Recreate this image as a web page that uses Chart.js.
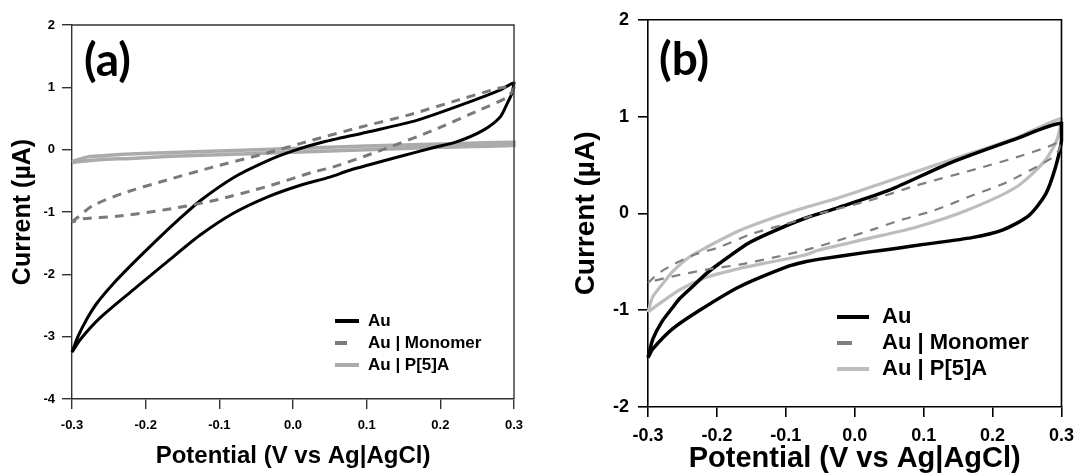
<!DOCTYPE html>
<html>
<head>
<meta charset="utf-8">
<script src="https://cdn.jsdelivr.net/npm/chart.js@4.4.1/dist/chart.umd.min.js"></script>
<style>
  html, body { margin: 0; padding: 0; background: #fff; }
  #wrap { position: relative; width: 1082px; height: 474px; overflow: hidden; }
  canvas { position: absolute; top: 0; }
</style>
</head>
<body>
<div id="wrap">
  <canvas id="cvA" width="540" height="474" style="left:0px"></canvas>
  <canvas id="cvB" width="542" height="474" style="left:540px"></canvas>
</div>
<script>
// Series names and axis ticks
const seriesLabels = ['Au', 'Au | Monomer', 'Au | P[5]A'];
const potentialTicks = [-0.3, -0.2, -0.1, 0.0, 0.1, 0.2, 0.3];
const currentTicksA = [-4, -3, -2, -1, 0, 1, 2];
const currentTicksB = [-2, -1, 0, 1, 2];

// Panel (a): cyclic voltammograms, potential (V) and current (µA)
const auA_E = [-0.300, -0.292, -0.280, -0.266, -0.244, -0.217, -0.185, -0.155, -0.126, -0.081, -0.035, 0.000, 0.037, 0.100, 0.168, 0.236, 0.280, 0.300,
               0.297, 0.290, 0.281, 0.258, 0.222, 0.190, 0.145, 0.077, 0.050, 0.010, -0.035, -0.081, -0.126, -0.171, -0.217, -0.262, -0.289, -0.300];
const auA_I = [-3.25, -3.00, -2.72, -2.46, -2.15, -1.82, -1.45, -1.12, -0.82, -0.45, -0.18, -0.02, 0.11, 0.28, 0.47, 0.75, 0.95, 1.07,
               0.90, 0.72, 0.52, 0.31, 0.125, 0.03, -0.11, -0.33, -0.44, -0.57, -0.76, -1.02, -1.37, -1.80, -2.25, -2.70, -3.05, -3.25];

const monoA_E = [-0.300, -0.272, -0.231, -0.172, -0.109, -0.045, 0.027, 0.091, 0.155, 0.217, 0.281, 0.300,
                 0.292, 0.254, 0.190, 0.122, 0.054, 0.027, -0.035, -0.109, -0.172, -0.239, -0.285, -0.300];
const monoA_I = [-1.16, -0.90, -0.70, -0.49, -0.28, -0.085, 0.155, 0.36, 0.55, 0.77, 0.99, 1.00,
                 0.85, 0.64, 0.31, 0.00, -0.28, -0.36, -0.59, -0.82, -0.96, -1.07, -1.11, -1.16];

const polyA_E = [-0.300, -0.280, -0.262, -0.220, -0.172, -0.100, 0.000, 0.100, 0.200, 0.300,
                 0.300, 0.200, 0.100, 0.000, -0.100, -0.172, -0.220, -0.262, -0.290, -0.300];
const polyA_I = [-0.19, -0.12, -0.10, -0.07, -0.05, -0.02, 0.02, 0.06, 0.09, 0.12,
                 0.07, 0.04, 0.00, -0.04, -0.08, -0.11, -0.14, -0.16, -0.19, -0.21];

// Panel (b)
const auB_E = [-0.300, -0.293, -0.280, -0.264, -0.254, -0.230, -0.215, -0.197, -0.155, -0.120, -0.072, -0.024, 0.050, 0.138, 0.234, 0.300,
               0.300, 0.291, 0.277, 0.253, 0.215, 0.170, 0.100, 0.062, 0.019, -0.053, -0.072, -0.096, -0.168, -0.225, -0.264, -0.293, -0.300];
const auB_I = [-1.49, -1.30, -1.12, -0.97, -0.88, -0.72, -0.62, -0.52, -0.31, -0.19, -0.05, 0.06, 0.24, 0.52, 0.77, 0.93,
               0.75, 0.47, 0.20, -0.02, -0.17, -0.25, -0.32, -0.36, -0.40, -0.475, -0.50, -0.545, -0.76, -1.00, -1.19, -1.40, -1.49];

const monoB_E = [-0.300, -0.285, -0.264, -0.230, -0.197, -0.149, -0.100, -0.050, 0.020, 0.090, 0.177, 0.244, 0.277, 0.300,
                 0.295, 0.281, 0.220, 0.172, 0.115, 0.066, 0.029, -0.024, -0.072, -0.120, -0.168, -0.215, -0.264, -0.293, -0.300];
const monoB_I = [-0.72, -0.62, -0.53, -0.42, -0.35, -0.21, -0.11, 0.00, 0.13, 0.29, 0.46, 0.60, 0.68, 0.74,
                 0.64, 0.55, 0.32, 0.19, 0.03, -0.07, -0.16, -0.28, -0.38, -0.46, -0.53, -0.58, -0.65, -0.70, -0.72];

const polyB_E = [-0.300, -0.293, -0.280, -0.264, -0.240, -0.215, -0.168, -0.120, -0.072, -0.024, 0.043, 0.138, 0.234, 0.300,
                 0.297, 0.291, 0.273, 0.234, 0.162, 0.090, 0.019, -0.053, -0.072, -0.120, -0.168, -0.215, -0.254, -0.283, -0.300];
const polyB_I = [-1.02, -0.86, -0.74, -0.60, -0.45, -0.35, -0.18, -0.05, 0.06, 0.16, 0.32, 0.55, 0.78, 0.98,
                 0.85, 0.72, 0.52, 0.27, 0.03, -0.14, -0.26, -0.38, -0.43, -0.50, -0.57, -0.66, -0.79, -0.93, -1.02];

const toPoints = (E, I) => E.map((e, k) => ({ x: e, y: I[k] }));

const FONT = "'Liberation Sans', Arial, sans-serif";

// Draws top and right edges of the plotting box
const framePlugin = {
  id: 'frame',
  afterDraw(chart, args, opts) {
    const { ctx, chartArea: a } = chart;
    ctx.save();
    ctx.strokeStyle = opts.color;
    ctx.lineWidth = opts.width;
    ctx.beginPath();
    ctx.moveTo(a.left, a.top);
    ctx.lineTo(a.right, a.top);
    ctx.lineTo(a.right, a.bottom);
    ctx.stroke();
    ctx.restore();
  }
};

// Panel letter
const panelTagPlugin = {
  id: 'panelTag',
  afterDraw(chart, args, opts) {
    const { ctx } = chart;
    ctx.save();
    ctx.fillStyle = '#000';
    ctx.font = opts.font;
    ctx.textBaseline = 'alphabetic';
    ctx.textAlign = 'left';
    ctx.fillText(opts.text, opts.x, opts.y);
    ctx.restore();
  }
};

// Legend drawn inside the plotting box from the dataset styles
const insideLegendPlugin = {
  id: 'insideLegend',
  afterDraw(chart, args, opts) {
    const { ctx } = chart;
    ctx.save();
    ctx.font = opts.font;
    ctx.textBaseline = 'middle';
    ctx.textAlign = 'left';
    chart.data.datasets.forEach((ds, k) => {
      const y = opts.y + k * opts.rowH;
      ctx.strokeStyle = ds.borderColor;
      ctx.lineWidth = opts.lineWidth;
      ctx.setLineDash([]);
      ctx.beginPath();
      const len = (ds.borderDash && ds.borderDash.length) ? opts.dashLen : opts.lineLen;
      ctx.moveTo(opts.x, y);
      ctx.lineTo(opts.x + len, y);
      ctx.stroke();
      ctx.fillStyle = '#000';
      ctx.fillText(ds.label, opts.x + opts.lineLen + opts.gap, y);
    });
    ctx.restore();
  }
};

function makeChart(canvasId, cfg) {
  const datasets = cfg.series.map((s, k) => ({
    label: seriesLabels[k],
    data: toPoints(s.E, s.I),
    showLine: true,
    borderColor: s.color,
    borderWidth: s.width,
    borderDash: s.dash || [],
    pointRadius: 0,
    pointHoverRadius: 0,
    tension: 0.25,
    fill: false,
    clip: false,
    order: s.order
  }));

  return new Chart(document.getElementById(canvasId), {
    type: 'scatter',
    data: { datasets },
    plugins: [framePlugin, panelTagPlugin, insideLegendPlugin],
    options: {
      responsive: false,
      animation: false,
      events: [],
      layout: { padding: cfg.padding },
      plugins: {
        legend: { display: false },
        tooltip: { enabled: false },
        frame: { color: cfg.axisColor, width: cfg.axisWidth },
        panelTag: cfg.tag,
        insideLegend: cfg.legend
      },
      scales: {
        x: {
          type: 'linear',
          min: -0.3,
          max: 0.3,
          afterBuildTicks: s => { s.ticks = potentialTicks.map(v => ({ value: v })); },
          afterFit: s => { s.height = cfg.xHeight; },
          ticks: {
            autoSkip: false,
            maxRotation: 0,
            color: '#000',
            padding: cfg.xTickPad,
            font: { family: FONT, size: cfg.tickSize, weight: 'bold' },
            callback: v => (Math.abs(v) < 1e-9 ? 0 : v).toFixed(1)
          },
          grid: { drawOnChartArea: false, drawTicks: true, tickLength: 10, color: cfg.axisColor, lineWidth: cfg.axisWidth },
          border: { display: true, color: cfg.axisColor, width: cfg.axisWidth },
          title: {
            display: true,
            text: 'Potential (V vs Ag|AgCl)',
            color: '#000',
            font: { family: FONT, size: cfg.xTitleSize, weight: 'bold', lineHeight: 1 },
            padding: { top: 0, bottom: cfg.xTitlePad }
          }
        },
        y: {
          type: 'linear',
          min: cfg.yTicks[0],
          max: cfg.yTicks[cfg.yTicks.length - 1],
          afterBuildTicks: s => { s.ticks = cfg.yTicks.map(v => ({ value: v })); },
          afterFit: s => { s.width = cfg.yWidth; },
          ticks: {
            autoSkip: false,
            color: '#000',
            padding: cfg.yTickPad,
            font: { family: FONT, size: cfg.tickSize, weight: 'bold' },
            callback: v => String(v)
          },
          grid: { drawOnChartArea: false, drawTicks: true, tickLength: 10, color: cfg.axisColor, lineWidth: cfg.axisWidth },
          border: { display: true, color: cfg.axisColor, width: cfg.axisWidth },
          title: {
            display: true,
            text: 'Current (µA)',
            color: '#000',
            font: { family: FONT, size: cfg.yTitleSize, weight: 'bold', lineHeight: 1 },
            padding: { top: cfg.yTitlePad, bottom: 0 }
          }
        }
      }
    }
  });
}

makeChart('cvA', {
  series: [
    { E: auA_E,   I: auA_I,   color: '#000000', width: 3,   order: 1 },
    { E: monoA_E, I: monoA_I, color: '#7a7a7a', width: 3,   dash: [9, 7], order: 0 },
    { E: polyA_E, I: polyA_I, color: '#ababab', width: 3.5, order: 2 }
  ],
  yTicks: currentTicksA,
  padding: { top: 25, right: 26, bottom: 0, left: 0 },
  xHeight: 75,
  yWidth: 72,
  tickSize: 13,
  xTickPad: 9,
  yTickPad: 7,
  xTitleSize: 24,
  xTitlePad: 6,
  yTitleSize: 25,
  yTitlePad: 11,
  axisColor: '#333333',
  axisWidth: 1.4,
  tag: { text: '(a)', x: 84, y: 76, font: "bold 46px Lato, 'Open Sans', sans-serif" },
  legend: { x: 335, y: 321, rowH: 22, lineLen: 24, dashLen: 12, gap: 9, lineWidth: 4, font: "bold 17px " + FONT }
});

makeChart('cvB', {
  series: [
    { E: auB_E,   I: auB_I,   color: '#000000', width: 3.5, order: 1 },
    { E: monoB_E, I: monoB_I, color: '#7f7f7f', width: 2.2, dash: [9, 8], order: 0 },
    { E: polyB_E, I: polyB_I, color: '#bdbdbd', width: 3.2, order: 2 }
  ],
  yTicks: currentTicksB,
  padding: { top: 19, right: 16, bottom: 0, left: 0 },
  xHeight: 67,
  yWidth: 108,
  tickSize: 18,
  xTickPad: 8,
  yTickPad: 9,
  xTitleSize: 29,
  xTitlePad: 1,
  yTitleSize: 28,
  yTitlePad: 32,
  axisColor: '#000000',
  axisWidth: 1.6,
  tag: { text: '(b)', x: 119, y: 75, font: "bold 46px Lato, 'Open Sans', sans-serif" },
  legend: { x: 297, y: 317, rowH: 26, lineLen: 32, dashLen: 15, gap: 13, lineWidth: 4, font: "bold 22px " + FONT }
});
</script>
</body>
</html>
